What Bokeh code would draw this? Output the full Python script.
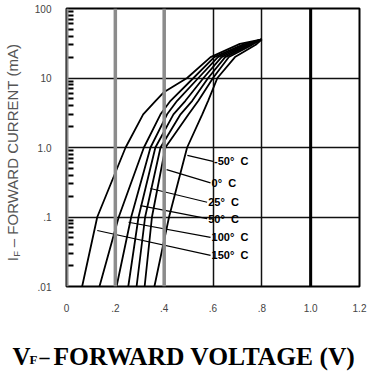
import math
from bokeh.plotting import figure
from bokeh.layouts import column, row
from bokeh.models import FixedTicker, Label, Span, Range1d
from bokeh.core.properties import value
from bokeh.embed import file_html
from bokeh.resources import INLINE

# ---- data ----
x_ticks = [0, 0.2, 0.4, 0.6, 0.8, 1.0, 1.2]
x_tick_labels = ["0", ".2", ".4", ".6", ".8", "1.0", "1.2"]
y_ticks = [0.01, 0.1, 1, 10, 100]
y_tick_labels = [".01", ".1", "1.0", "10", "100"]

# curve 1 (leftmost, 150 C) has its own current points
if_c1 = [0.01, 0.1, 1, 3, 4.7, 6.3, 10, 20, 31, 36]
vf_c1 = [0.064, 0.126, 0.242, 0.314, 0.365, 0.40, 0.494, 0.59, 0.71, 0.80]

if_common = [0.01, 0.1, 1, 3, 4.7, 10, 20, 30, 36]
vf_c2 = [0.135, 0.214, 0.317, 0.385, 0.426, 0.52, 0.605, 0.72, 0.80]
vf_c3 = [0.205, 0.265, 0.344, 0.412, 0.453, 0.54, 0.62, 0.73, 0.80]
vf_c4 = [0.253, 0.295, 0.364, 0.438, 0.487, 0.561, 0.635, 0.74, 0.80]
vf_c5 = [0.287, 0.322, 0.385, 0.467, 0.515, 0.58, 0.65, 0.75, 0.80]
vf_c6 = [0.32, 0.35, 0.405, 0.50, 0.54, 0.60, 0.665, 0.76, 0.80]
vf_c7 = [0.36, 0.42, 0.494, 0.556, 0.58, 0.618, 0.69, 0.775, 0.80]

temp_labels = ["-50\u00b0\u00a0\u00a0C", "0\u00b0\u00a0\u00a0C", "25\u00b0\u00a0\u00a0C",
               "50\u00b0\u00a0\u00a0C", "100\u00b0\u00a0\u00a0C", "150\u00b0\u00a0\u00a0C"]
# leader lines: start (on curve) and end (at label), in data units
lead_v0 = [0.495, 0.41, 0.344, 0.303, 0.254, 0.126]
lead_i0 = [0.77, 0.48, 0.257, 0.146, 0.084, 0.064]
lead_v1 = [0.60, 0.59, 0.576, 0.576, 0.59, 0.59]
lead_i1 = [0.63, 0.31, 0.163, 0.095, 0.051, 0.028]

x_title_parts = ["V", "F", "\u2013", "FORWARD VOLTAGE (V)"]
y_title_parts = ["I", "F", "\u2013 FORWARD CURRENT (mA)"]

# ---- layout sizes (px) ----
W, H = 367, 371
YT_W = 24          # strip holding the rotated y title
MAIN_H = 318       # main plot height
XT_H = H - MAIN_H  # strip holding the x title


def bare(width, height, xr, yr):
    f = figure(width=width, height=height, x_range=xr, y_range=yr,
               output_backend="svg", toolbar_location=None,
               x_axis_location=None, y_axis_location=None,
               min_border=0, min_border_left=0, min_border_right=0,
               min_border_top=0, min_border_bottom=0)
    f.outline_line_color = None
    f.grid.visible = False
    f.background_fill_color = "white"
    f.border_fill_color = "white"
    return f


p = figure(width=W - YT_W, height=MAIN_H, x_range=(0, 1.2), y_range=(0.01, 100),
           y_axis_type="log", output_backend="svg", toolbar_location=None,
           min_border_left=66 - YT_W, min_border_right=8, min_border_top=8,
           min_border_bottom=MAIN_H - 286)
p.outline_line_color = "black"
p.outline_line_width = 2
p.background_fill_color = "white"
p.border_fill_color = "white"

# axes
p.xaxis.ticker = FixedTicker(ticks=x_ticks)
p.xaxis.major_label_overrides = {t: l for t, l in zip(x_ticks, x_tick_labels)}
minor = [m * d for d in [0.01, 0.1, 1, 10] for m in range(2, 10)]
p.yaxis.ticker = FixedTicker(ticks=y_ticks, minor_ticks=minor)
p.yaxis.major_label_overrides = {t: l for t, l in zip(y_ticks, y_tick_labels)}
for ax in (p.xaxis, p.yaxis):
    ax.axis_line_color = None
    ax.major_tick_line_color = None
    ax.major_tick_out = 0
    ax.major_tick_in = 0
    ax.major_label_text_font = "Liberation Sans"
    ax.major_label_text_font_size = "10px"
    ax.major_label_text_color = "#444444"
p.xaxis.minor_tick_line_color = None
p.xaxis.minor_tick_out = 0
p.xaxis.major_label_standoff = 17
p.yaxis.major_label_standoff = 15
p.yaxis.minor_tick_in = 7
p.yaxis.minor_tick_out = 0
p.yaxis.minor_tick_line_color = "black"
p.yaxis.minor_tick_line_width = 2

# grid
p.xgrid.ticker = FixedTicker(ticks=x_ticks)
p.ygrid.ticker = FixedTicker(ticks=y_ticks)
p.xgrid.grid_line_color = "#111111"
p.xgrid.grid_line_width = 1.5
p.ygrid.grid_line_color = "#111111"
p.ygrid.grid_line_width = 1.5
for xv in (0.2, 0.4):
    p.add_layout(Span(location=xv, dimension="height", line_color="#8c8c8c", line_width=3.5))
p.add_layout(Span(location=1.0, dimension="height", line_color="black", line_width=3))
p.add_layout(Span(location=0.0, dimension="height", line_color="#8c8c8c", line_width=4))

# curves
curves = [(vf_c1, if_c1), (vf_c2, if_common), (vf_c3, if_common), (vf_c4, if_common),
          (vf_c5, if_common), (vf_c6, if_common), (vf_c7, if_common)]
for vf, i_f in curves:
    p.line(vf, i_f, line_color="black", line_width=1.8)

# leaders and temperature labels
for t, v0, i0, v1, i1 in zip(temp_labels, lead_v0, lead_i0, lead_v1, lead_i1):
    p.line([v0, v1], [i0, i1], line_color="black", line_width=1.2)
    p.add_layout(Label(x=v1, y=i1, text=t, text_font="Liberation Sans",
                       text_font_style="bold", text_font_size="11px",
                       text_color="black", text_baseline="middle", text_align="left",
                       x_offset=1))

# ---- y title strip (pixel coordinates, y measured upward) ----
yt = bare(YT_W, MAIN_H, Range1d(0, YT_W), Range1d(0, MAIN_H))
ycol = "#555555"
yfont = value("Liberation Sans")
Y0 = 29  # start of the rotated title, px above the strip bottom
yt.text(x=[12], y=[Y0], text=[y_title_parts[0]], angle=math.pi / 2,
        text_font=yfont, text_font_size="15px", text_color=ycol,
        text_align="left", text_baseline="middle")
yt.text(x=[16], y=[Y0 + 5], text=[y_title_parts[1]], angle=math.pi / 2,
        text_font=yfont, text_font_size="9.5px", text_color=ycol,
        text_align="left", text_baseline="middle")
yt.text(x=[12], y=[Y0 + 16], text=[y_title_parts[2]], angle=math.pi / 2,
        text_font=yfont, text_font_size="15px", text_color=ycol,
        text_align="left", text_baseline="middle")

# ---- x title strip (pixel coordinates, y measured upward) ----
xt = bare(W, XT_H, Range1d(0, W), Range1d(0, XT_H))
xfont = value("Liberation Serif")
XB = 15  # baseline, px above the strip bottom
xt.text(x=[12], y=[XB], text=[x_title_parts[0]], text_font=xfont,
        text_font_style="bold", text_font_size="25px", text_color="black",
        text_align="left", text_baseline="alphabetic")
xt.text(x=[29], y=[XB - 3], text=[x_title_parts[1]], text_font=xfont,
        text_font_style="bold", text_font_size="13px", text_color="black",
        text_align="left", text_baseline="alphabetic")
xt.text(x=[39], y=[XB], text=[x_title_parts[2]], text_font=xfont,
        text_font_style="bold", text_font_size="20px", text_color="black",
        text_align="left", text_baseline="alphabetic")
xt.text(x=[53], y=[XB], text=[x_title_parts[3]], text_font=xfont,
        text_font_style="bold", text_font_size="25.5px", text_color="black",
        text_align="left", text_baseline="alphabetic")

layout = column(row(yt, p, spacing=0), xt, spacing=0)
open("out.html", "w").write(file_html(layout, INLINE))
